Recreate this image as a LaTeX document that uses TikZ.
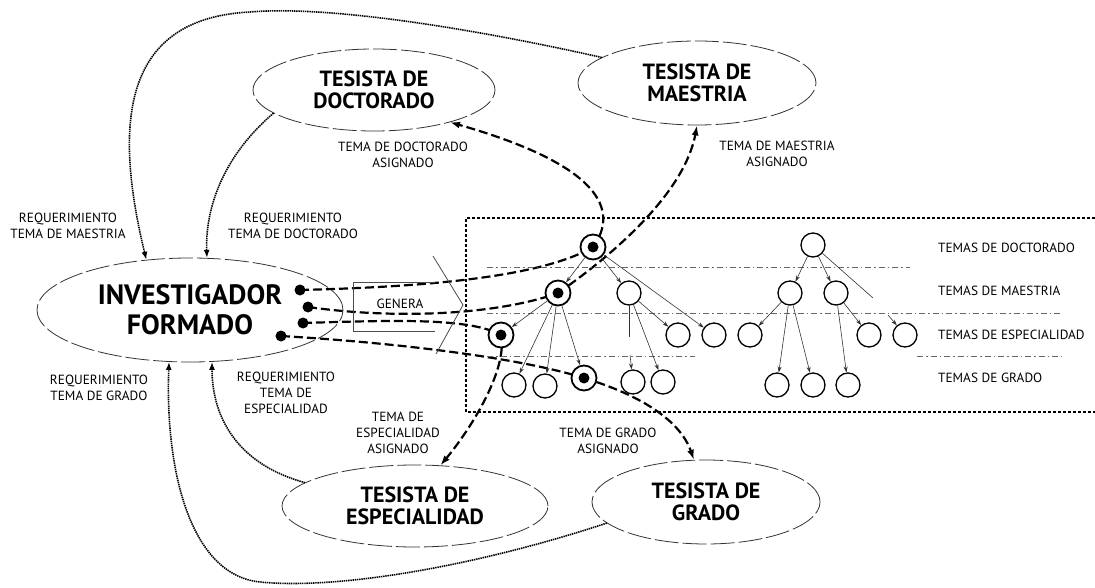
\documentclass[tikz,border=0pt]{standalone}
\usepackage{fontspec}
\setmainfont{PT Sans}
\usetikzlibrary{shapes.geometric,arrows.meta}
\pgfdeclarelayer{bg}
\pgfsetlayers{bg,main}
\begin{document}
\begin{tikzpicture}[x=1pt,y=-1pt,
  ell/.style={ellipse, draw=black!80, line width=0.8pt, dash pattern=on 24pt off 4pt, inner sep=0pt, align=center,
    font=\fontsize{22}{22}\selectfont\bfseries},
  invell/.style={ellipse, draw=black!80, line width=0.8pt, dash pattern=on 24pt off 4pt, inner sep=0pt, align=center,
    font=\fontsize{28}{30}\selectfont\bfseries},
  lbl/.style={align=center, inner sep=0pt, font=\fontsize{13.3}{16}\selectfont},
  rowlbl/.style={anchor=west, inner sep=0pt, font=\fontsize{13.3}{16}\selectfont},
  topic/.style={circle, draw, line width=1.3pt, minimum size=24pt, inner sep=0pt, fill=white},
  hitopic/.style={circle, draw, line width=1.8pt, minimum size=25pt, inner sep=0pt, fill=white},
  startdot/.style={circle, fill, minimum size=11pt, inner sep=0pt},
  thickdash/.style={line width=2.2pt, dash pattern=on 9pt off 4pt},
  thickarrow/.style={thickdash, -{Latex[length=10pt,width=7pt]}},
  req/.style={line width=1.6pt, dash pattern=on 1.4pt off 0.8pt, -{Latex[length=8pt,width=6pt]}},
  tedge/.style={line width=0.6pt, draw=black!80, -{Stealth[length=6pt,width=4pt]}},
  tline/.style={line width=0.6pt, draw=black!80},
  sep/.style={line width=0.6pt, draw=black!60, dash pattern=on 6pt off 3pt on 1.5pt off 3pt},
  boxline/.style={line width=2.8pt, dash pattern=on 2.8pt off 2.2pt},
  thinline/.style={line width=0.8pt, draw=black!70}
]
\useasboundingbox (0,0) rectangle (1095,588);

% ellipses
\node[invell, minimum width=306pt, minimum height=104pt] (inv) at (190,310) {INVESTIGADOR\\FORMADO};
\node[ell, minimum width=242pt, minimum height=82pt] (tdoc) at (374,90) {TESISTA DE\\DOCTORADO};
\node[ell, minimum width=238pt, minimum height=84pt] (tmae) at (697,83) {TESISTA DE\\MAESTRIA};
\node[ell, minimum width=266pt, minimum height=82pt] (tesp) at (415,506) {TESISTA DE\\ESPECIALIDAD};
\node[ell, minimum width=228pt, minimum height=84pt] (tgr) at (706,502) {TESISTA DE\\GRADO};

% labels
\node[lbl] (lreqmae) at (68,226) {REQUERIMIENTO\\TEMA DE MAESTRIA};
\node[lbl] (lreqdoc) at (293,226) {REQUERIMIENTO\\TEMA DE DOCTORADO};
\node[lbl] (ltemadoc) at (403,155) {TEMA DE DOCTORADO\\ASIGNADO};
\node[lbl] (ltemamae) at (777,154) {TEMA DE MAESTRIA\\ASIGNADO};
\node[lbl] (lreqgr) at (99,388) {REQUERIMIENTO\\TEMA DE GRADO};
\node[lbl] (lreqesp) at (286,393) {REQUERIMIENTO\\TEMA DE\\ESPECIALIDAD};
\node[lbl] (ltemaesp) at (398,433) {TEMA DE\\ESPECIALIDAD\\ASIGNADO};
\node[lbl] (ltemagr) at (608,441) {TEMA DE GRADO\\ASIGNADO};
\node[lbl] (genera) at (400,304) {GENERA};

\node[rowlbl] (rdoc) at (938,248) {TEMAS DE DOCTORADO};
\node[rowlbl] (rmae) at (938,291) {TEMAS DE MAESTRIA};
\node[rowlbl] (resp) at (938,335) {TEMAS DE ESPECIALIDAD};
\node[rowlbl] (rgr) at (938,378) {TEMAS DE GRADO};

% genera box and chevron
\draw[thinline] (435,282) -- (353,282) -- (353,331) -- (435,331);
\draw[thinline] (433,256) -- (463,305) -- (436,354);

% dotted frame
\draw[boxline] (1095,218) -- (466,218) -- (466,412) -- (1095,412);

% separators
\draw[sep] (487,267) -- (910,267);
\draw[sep] (487,313) -- (1062,313);
\draw[sep] (487,356) -- (695,356);
\draw[sep] (917,356) -- (1062,356);

% start dots
\node[startdot] (d1) at (300,290) {};
\node[startdot] (d2) at (308,307) {};
\node[startdot] (d3) at (303,323) {};
\node[startdot] (d4) at (281,336) {};

% tree 1
\node[hitopic] (A) at (593,247) {};
\node[hitopic] (B) at (558,293) {};
\node[topic] (C) at (629,293) {};
\node[hitopic] (D) at (501,335) {};
\node[topic] (E) at (678,335) {};
\node[topic] (F) at (714,335) {};
\node[topic] (G1) at (514,385) {};
\node[topic] (G2) at (545,386) {};
\node[hitopic] (H) at (584,378) {};
\node[topic] (G4) at (633,382) {};
\node[topic] (G5) at (663,382) {};
\fill (A) circle (5.5pt);
\fill (B) circle (5.5pt);
\fill (D) circle (5.5pt);
\fill (H) circle (5.5pt);

% tree 2
\node[topic] (R2) at (813,245) {};
\node[topic] (M1) at (790,293) {};
\node[topic] (M2) at (836,293) {};
\node[topic] (E1) at (750,335) {};
\node[topic] (E2) at (869,335) {};
\node[topic] (E3) at (905,335) {};
\node[topic] (K1) at (777,385) {};
\node[topic] (K2) at (813,385) {};
\node[topic] (K3) at (848,385) {};

\coordinate (gc1) at (629,337);
\coordinate (gc2) at (630,355);
\coordinate (gr1) at (873,298);
\coordinate (gr2) at (888,315);

% tree edges
\draw[tedge] (A) -- (B);
\draw[tedge] (A) -- (C);
\draw[tedge] (A) -- (F);
\draw[tedge] (B) -- (D);
\draw[tedge] (B) -- (G1);
\draw[tedge] (B) -- (G2);
\draw[tedge] (B) -- (H);
\draw[tedge] (C) -- (E);
\draw[tline] (C) -- (gc1);
\draw[tedge] (gc2) -- (G4);
\draw[tedge] (C) -- (G5);
\draw[tedge] (R2) -- (M1);
\draw[tedge] (R2) -- (M2);
\draw[tline] (R2) -- (gr1);
\draw[tedge] (gr2) -- (E3);
\draw[tedge] (M1) -- (E1);
\draw[tedge] (M1) -- (K1);
\draw[tedge] (M1) -- (K2);
\draw[tedge] (M2) -- (E2);
\draw[tedge] (M2) -- (K3);

\begin{pgfonlayer}{bg}
% thick dashed generation paths
\draw[thickdash] (d1.center) .. controls (420,287) and (540,278) .. (A.center);
\draw[thickarrow] (A.center) .. controls (620,210) and (600,165) .. (tdoc.-23);
\draw[thickdash] (d2.center) .. controls (400,320) and (500,314) .. (B.center);
\draw[thickarrow] (B.center) .. controls (620,250) and (685,190) .. (tmae.south);
\draw[thickdash] (d3.center) .. controls (400,320) and (470,318) .. (D.center);
\draw[thickarrow] (D.center) .. controls (508,370) and (470,430) .. (tesp.58);
\draw[thickdash] (d4.center) .. controls (400,343) and (520,358) .. (H.center);
\draw[thickarrow] (H.center) .. controls (640,395) and (680,420) .. (tgr.106);
\end{pgfonlayer}

% requirement paths (dotted)
\draw[req] (tmae.165) .. controls (480,30) and (330,5) .. (250,12) .. controls (130,18) and (110,110) .. (inv.131);
\draw[req] (tdoc.193) .. controls (230,150) and (205,200) .. (inv.72);
\draw[req] (tesp.168) .. controls (240,465) and (212,420) .. (inv.-67);
\draw[req] (tgr.192) .. controls (480,565) and (340,590) .. (260,582) .. controls (190,575) and (165,470) .. (inv.-112);
\end{tikzpicture}
\end{document}
